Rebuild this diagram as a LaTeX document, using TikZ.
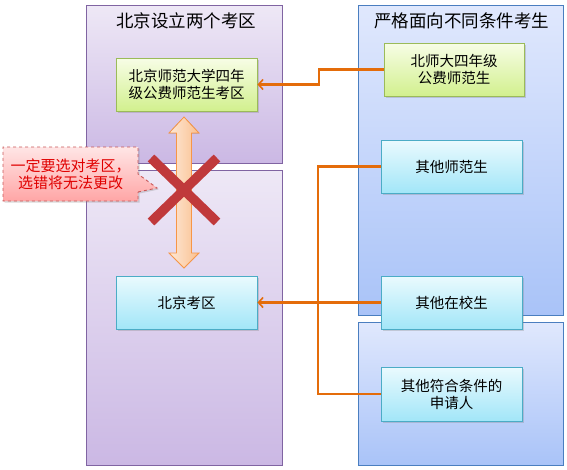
\documentclass[tikz,border=0pt]{standalone}
\usepackage{fontspec}
\usepackage{xcolor}
\usepackage{tikz}
\usetikzlibrary{shapes.geometric, shapes.callouts, arrows.meta, positioning, shadows}
\newfontfamily\cjk{Noto Sans CJK SC}
\definecolor{mypurple}{HTML}{8064A2}
\definecolor{purpletop}{HTML}{EEE8F6}
\definecolor{purplebot}{HTML}{CBB8E4}
\definecolor{myblue}{HTML}{4A7EC0}
\definecolor{bluetop}{HTML}{E0E8FD}
\definecolor{bluebot}{HTML}{A9C3F8}
\definecolor{mygreen}{HTML}{9BBB59}
\definecolor{greentop}{HTML}{F7FDE6}
\definecolor{greenbot}{HTML}{D2F08E}
\definecolor{mycyan}{HTML}{4BACC6}
\definecolor{cyantop}{HTML}{EAFAFE}
\definecolor{cyanbot}{HTML}{A2E6F8}
\definecolor{myorange}{HTML}{E46C0A}
\definecolor{peach}{HTML}{F79646}
\definecolor{myred}{HTML}{C0393B}
\definecolor{notered}{HTML}{E00000}
\tikzstyle{leftpanel} = [rectangle, draw=mypurple, line width=0.9pt, top color=purpletop, bottom color=purplebot, minimum width=196pt, drop shadow={shadow xshift=1pt, shadow yshift=-1pt, opacity=0.25}]
\tikzstyle{rightpanel} = [rectangle, draw=myblue, line width=1pt, top color=bluetop, bottom color=bluebot, minimum width=205pt, drop shadow={shadow xshift=1pt, shadow yshift=-1pt, opacity=0.25}]
\tikzstyle{paneltitle} = [font=\cjk\fontsize{17.5}{20}\selectfont, inner sep=0pt]
\tikzstyle{greenbox} = [rectangle, draw=mygreen, line width=0.9pt, top color=greentop, bottom color=greenbot, minimum width=141pt, minimum height=53pt, align=center, font=\cjk\fontsize{14.5}{17}\selectfont, drop shadow={shadow xshift=1.5pt, shadow yshift=-1.5pt, opacity=0.3}]
\tikzstyle{cyanbox} = [rectangle, draw=mycyan, line width=0.9pt, top color=cyantop, bottom color=cyanbot, minimum width=141pt, minimum height=53pt, align=center, font=\cjk\fontsize{14.5}{17}\selectfont, drop shadow={shadow xshift=1.5pt, shadow yshift=-1.5pt, opacity=0.3}]
\tikzstyle{conn} = [draw=myorange, line width=2.1pt]
\tikzstyle{connarrow} = [conn, -{Straight Barb[length=4.5pt, width=10pt, line width=1.6pt]}]

\begin{document}
\begin{tikzpicture}[x=1pt, y=-1pt]
\useasboundingbox (0,0) rectangle (567,469);

% panels
\node[leftpanel, minimum height=158pt] (bjtop) at (184,84) {};
\node[leftpanel, minimum height=295pt] (bjbot) at (184,317.5) {};
\node[rightpanel, minimum height=310pt] (tjtop) at (460.5,160) {};
\node[rightpanel, minimum height=143pt] (tjbot) at (460.5,393.5) {};
\node[paneltitle] (lefttitle) at (186,20.5) {北京设立两个考区};
\node[paneltitle] (righttitle) at (461.5,20.5) {严格面向不同条件考生};

% boxes
\node[greenbox] (szk) at (186.5,84.5) {北京师范大学四年\\级公费师范生考区};
\node[cyanbox] (bjkq) at (186.5,302.5) {北京考区};
\node[greenbox, minimum width=140pt] (bsd) at (454,69.5) {北师大四年级\\公费师范生};
\node[cyanbox] (qtsf) at (451.5,166.5) {其他师范生};
\node[cyanbox] (qtzx) at (451.5,302.5) {其他在校生};
\node[cyanbox, minimum height=54pt] (sqr) at (451.5,394) {其他符合条件的\\申请人};

% connectors
\coordinate (j1) at (319,0);
\coordinate (j2) at (318,0);
\draw[connarrow] (bsd.west) -- (bsd.west -| j1) |- (szk.east);
\draw[conn] (qtsf.west) -- (qtsf.west -| j2) -- (sqr.west -| j2) -- (sqr.west);
\draw[connarrow] (qtzx.west) -- (bjkq.east);

% double arrow and cross
\filldraw[draw=peach, line width=0.8pt, left color=peach!22, right color=peach!60]
(184,117) -- (199,133) -- (191.5,133) -- (191.5,253) -- (199,253) -- (184,268)
-- (169,253) -- (176.5,253) -- (176.5,133) -- (169,133) -- cycle;
\draw[myred, line width=9.5pt] (151,158) -- (217,222) (217,158) -- (151,222);

% warning note
\coordinate (xtip) at (157,188);
\node[
rectangle callout,
callout absolute pointer=(xtip),
callout pointer width=18pt,
draw=myred!85,
dashed,
line width=0.9pt,
top color=red!10,
bottom color=red!35,
minimum width=135pt,
minimum height=54pt,
align=center,
text=notered,
font=\cjk\fontsize{15}{17}\selectfont,
drop shadow={shadow xshift=1.5pt, shadow yshift=-1.5pt, opacity=0.3}
] (note) at (70.5,174) {一定要选对考区，\\选错将无法更改};
\end{tikzpicture}
\end{document}
